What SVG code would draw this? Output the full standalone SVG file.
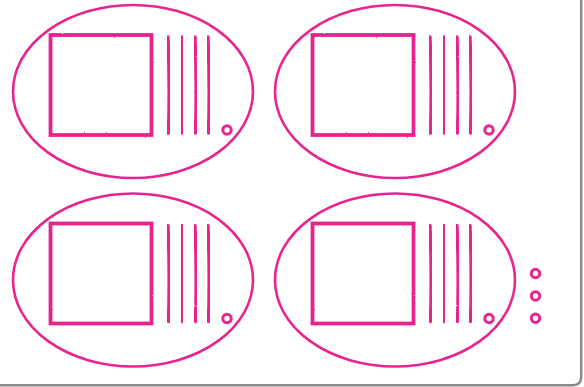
<svg xmlns="http://www.w3.org/2000/svg" xmlns:xlink="http://www.w3.org/1999/xlink" width="584" height="387" viewBox="0 0 584 387">
<style>
.oval{fill:none;stroke:#E8248E;stroke-width:2.6}
.box{fill:none;stroke:#E8248E;stroke-width:3.8;filter:url(#rough)}
.ln{fill:none;stroke:#E8248E;stroke-width:3.4;stroke-linecap:round;filter:url(#rough)}
.dot{fill:none;stroke:#E8248E;stroke-width:3}
.frame{fill:none;stroke:#8a8a8a;stroke-width:2.5}
</style>
<defs>
<filter id="rough" x="-10%" y="-10%" width="120%" height="120%">
<feTurbulence type="fractalNoise" baseFrequency="0.9" numOctaves="2" seed="3" result="n"/>
<feDisplacementMap in="SourceGraphic" in2="n" scale="1.6" xChannelSelector="R" yChannelSelector="G"/>
</filter>
<g id="unit">
<ellipse class="oval" cx="133" cy="91.5" rx="120" ry="86.5"/>
<rect class="box" x="50.5" y="35" width="101" height="100"/>
<path class="ln" d="M168 37 Q170 85 168.5 133"/>
<path class="ln" d="M181.5 37 Q183.5 85 182 133"/>
<path class="ln" d="M195 37 Q197 85 195.5 133"/>
<path class="ln" d="M208 37 Q210 85 208.5 133"/>
<circle class="dot" cx="227" cy="130" r="4.2"/>
</g>
</defs>
<path class="frame" d="M0 385.2 H573 Q581.2 385.2 581.2 377 V0"/>
<g id="node-top-left"><use xlink:href="#unit"/></g>
<g id="node-top-right"><use xlink:href="#unit" transform="translate(262,0)"/></g>
<g id="node-bottom-left"><use xlink:href="#unit" transform="translate(0,188.5)"/></g>
<g id="node-bottom-right"><use xlink:href="#unit" transform="translate(262,188.5)"/></g>
<g id="ellipsis">
<circle class="dot" cx="535.5" cy="273.5" r="4.2"/>
<circle class="dot" cx="535.5" cy="296" r="4.2"/>
<circle class="dot" cx="535.5" cy="318.3" r="4.2"/>
</g>
<g id="connectors"/>
</svg>
